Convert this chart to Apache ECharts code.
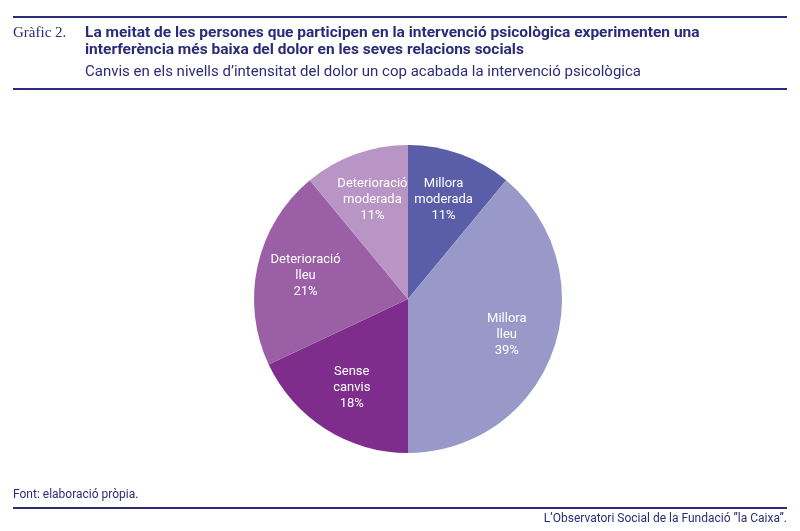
<!DOCTYPE html>
<html>
<head>
<meta charset="utf-8">
<script src="https://cdn.jsdelivr.net/npm/echarts@6/dist/echarts.min.js"></script>
<style>
  html, body { margin: 0; padding: 0; background: #fff; }
  #chart { width: 800px; height: 531px; }
</style>
</head>
<body>
<div id="chart"></div>
<script>
// dades del gràfic
var categories = ['Millora\nmoderada', 'Millora\nlleu', 'Sense\ncanvis', 'Deterioració\nlleu', 'Deterioració\nmoderada']
var values = [11, 39, 18, 21, 11]
var colors = ['#5a5ea8', '#9899c8', '#7e2d8c', '#9a5fa5', '#b995c5']

var navy = '#2b2b7a'
var chart = echarts.init(document.getElementById('chart'))

var pieData = categories.map(function (c, i) {
  return { name: c, value: values[i], itemStyle: { color: colors[i] } }
})

var option = {
  animation: false,
  title: [
    {
      text: 'Gràfic 2.',
      left: 13, top: 25, padding: 0,
      textStyle: { fontFamily: 'Liberation Serif', fontWeight: 'normal', fontSize: 15, lineHeight: 17, color: navy }
    },
    {
      text: 'La meitat de les persones que participen en la intervenció psicològica experimenten una\ninterferència més baixa del dolor en les seves relacions socials',
      left: 85, top: 25, padding: 0,
      textStyle: { fontFamily: 'Roboto', fontWeight: 'bold', fontSize: 15.5, lineHeight: 17, color: navy }
    },
    {
      text: 'Canvis en els nivells d\u2019intensitat del dolor un cop acabada la intervenció psicològica',
      left: 85, top: 63, padding: 0,
      textStyle: { fontFamily: 'Roboto', fontWeight: 'normal', fontSize: 15, lineHeight: 18, color: navy }
    },
    {
      text: 'Font: elaboració pròpia.',
      left: 13, top: 488, padding: 0,
      textStyle: { fontFamily: 'Roboto', fontWeight: 'normal', fontSize: 12, lineHeight: 13, color: navy }
    },
    {
      text: 'L\u2019Observatori Social de la Fundació \u201Dla Caixa\u201D.',
      right: 13, top: 512, padding: 0,
      textStyle: { fontFamily: 'Roboto', fontWeight: 'normal', fontSize: 12, lineHeight: 13, color: navy }
    }
  ],
  graphic: [
    { type: 'rect', shape: { x: 13, y: 16, width: 774, height: 2 }, style: { fill: navy } },
    { type: 'rect', shape: { x: 13, y: 88, width: 774, height: 2 }, style: { fill: navy } },
    { type: 'rect', shape: { x: 13, y: 507, width: 774, height: 2 }, style: { fill: navy } }
  ],
  series: [
    {
      type: 'pie',
      center: [408, 299],
      radius: [0, 154],
      startAngle: 90,
      clockwise: true,
      silent: true,
      label: { show: false },
      labelLine: { show: false },
      data: pieData
    },
    {
      // sèrie transparent només per col·locar les etiquetes
      type: 'pie',
      center: [408, 299],
      radius: [50, 154],
      startAngle: 90,
      clockwise: true,
      silent: true,
      itemStyle: { color: 'rgba(0,0,0,0)' },
      label: {
        show: true,
        position: 'inside',
        color: '#fff',
        fontFamily: 'Roboto',
        fontSize: 13,
        lineHeight: 16,
        formatter: function (p) { return p.name + '\n' + p.value + '%' }
      },
      labelLine: { show: false },
      data: categories.map(function (c, i) { return { name: c, value: values[i] } })
    }
  ]
}

chart.setOption(option)
</script>
</body>
</html>
